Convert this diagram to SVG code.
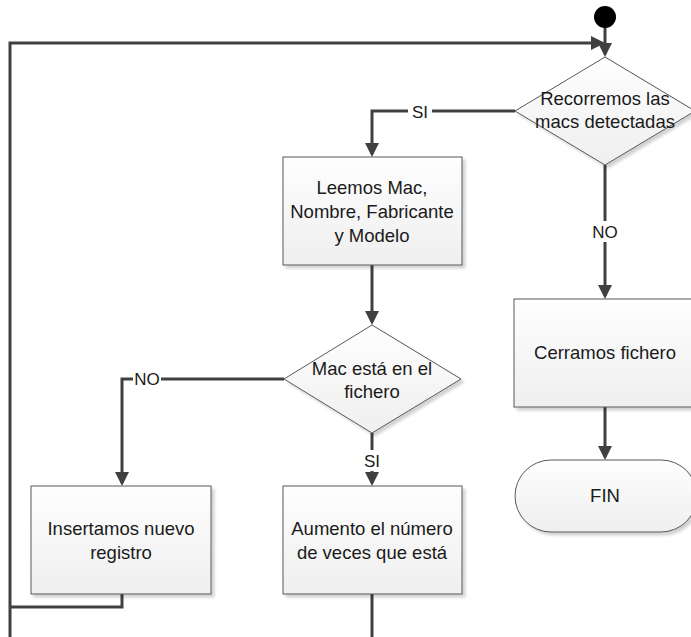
<svg xmlns="http://www.w3.org/2000/svg" width="691" height="637" viewBox="0 0 691 637">
<style>
.shape{fill:url(#g);stroke:#595959;stroke-width:1;filter:url(#sh)}
.conn{fill:none;stroke:#404040;stroke-width:3}
.t{font-family:"Liberation Sans",Arial,sans-serif;font-size:18.5px;fill:#1a1a1a;text-anchor:middle}
.lbl{font-family:"Liberation Sans",Arial,sans-serif;font-size:17px;fill:#1a1a1a;text-anchor:middle}
.bg{fill:#ffffff}
</style>
<defs>
<linearGradient id="g" x1="0" y1="0" x2="0" y2="1">
<stop offset="0" stop-color="#fefefe"/>
<stop offset="1" stop-color="#efefef"/>
</linearGradient>
<filter id="sh" x="-10%" y="-10%" width="130%" height="130%">
<feGaussianBlur in="SourceAlpha" stdDeviation="1.5"/>
<feOffset dx="3" dy="3" result="o"/>
<feComponentTransfer><feFuncA type="linear" slope="0.18"/></feComponentTransfer>
<feMerge><feMergeNode/><feMergeNode in="SourceGraphic"/></feMerge>
</filter>
<marker id="arr" markerUnits="userSpaceOnUse" markerWidth="15" markerHeight="15" refX="11" refY="7" orient="auto">
<path d="M0,0 L14,7 L0,14 z" fill="#404040"/>
</marker>
</defs>

<g id="connectors">
<line class="conn" x1="605" y1="27" x2="605" y2="54" marker-end="url(#arr)"/>
<path class="conn" d="M10,637 V43 H602" marker-end="url(#arr)"/>
<path class="conn" d="M515,111 H372 V154" marker-end="url(#arr)"/>
<path class="conn" d="M372,265 V322" marker-end="url(#arr)"/>
<path class="conn" d="M284,379 H122 V483" marker-end="url(#arr)"/>
<path class="conn" d="M372,433 V483" marker-end="url(#arr)"/>
<path class="conn" d="M605,165 V296" marker-end="url(#arr)"/>
<path class="conn" d="M605,407 V457" marker-end="url(#arr)"/>
<path class="conn" d="M122,594 V607 H10"/>
<path class="conn" d="M372,594 V637"/>
<rect class="bg" x="408" y="101" width="24" height="21"/>
<text class="lbl" x="420" y="118">SI</text>
<rect class="bg" x="133" y="368" width="28" height="21"/>
<text class="lbl" x="147" y="385">NO</text>
<rect class="bg" x="360" y="450" width="24" height="21"/>
<text class="lbl" x="372" y="467">SI</text>
<rect class="bg" x="591" y="221" width="28" height="21"/>
<text class="lbl" x="605" y="238">NO</text>
</g>

<g id="start">
<circle cx="605" cy="17" r="11" fill="#000000"/>
</g>

<g id="d1">
<polygon class="shape" points="605,57 695,111 605,165 515,111"/>
<text class="t" x="605" y="105">Recorremos las</text>
<text class="t" x="605" y="128">macs detectadas</text>
</g>

<g id="b1">
<rect class="shape" x="283" y="157" width="179" height="108"/>
<text class="t" x="372" y="194">Leemos Mac,</text>
<text class="t" x="372" y="218">Nombre, Fabricante</text>
<text class="t" x="372" y="242">y Modelo</text>
</g>

<g id="d2">
<polygon class="shape" points="372,325 461,379 372,433 284,379"/>
<text class="t" x="372" y="375">Mac está en el</text>
<text class="t" x="372" y="398">fichero</text>
</g>

<g id="b3">
<rect class="shape" x="31" y="486" width="180" height="108"/>
<text class="t" x="121" y="535">Insertamos nuevo</text>
<text class="t" x="121" y="559">registro</text>
</g>

<g id="b4">
<rect class="shape" x="283" y="486" width="179" height="108"/>
<text class="t" x="372" y="535">Aumento el número</text>
<text class="t" x="372" y="559">de veces que está</text>
</g>

<g id="b5">
<rect class="shape" x="514" y="299" width="182" height="108"/>
<text class="t" x="605" y="359">Cerramos fichero</text>
</g>

<g id="fin">
<rect class="shape" x="515" y="460" width="182" height="72" rx="36" ry="36"/>
<text class="t" x="605" y="502">FIN</text>
</g>
</svg>
